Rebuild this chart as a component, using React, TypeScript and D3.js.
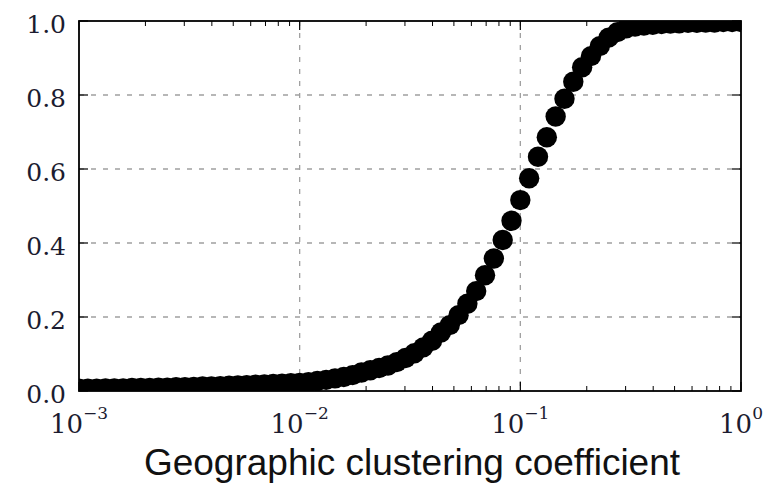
import React from "react"
import * as d3 from "d3"

// log10 of the clustering coefficient for each marker
const logX = [
  -3.00, -2.96, -2.92, -2.88, -2.84, -2.80, -2.76, -2.72, -2.68, -2.64,
  -2.60, -2.56, -2.52, -2.48, -2.44, -2.40, -2.36, -2.32, -2.28, -2.24,
  -2.20, -2.16, -2.12, -2.08, -2.04, -2.00, -1.96, -1.92, -1.88, -1.84,
  -1.80, -1.76, -1.72, -1.68, -1.64, -1.60, -1.56, -1.52, -1.48, -1.44,
  -1.40, -1.36, -1.32, -1.28, -1.24, -1.20, -1.16, -1.12, -1.08, -1.04,
  -1.00, -0.96, -0.92, -0.88, -0.84, -0.80, -0.76, -0.72, -0.68, -0.64,
  -0.60, -0.56, -0.52, -0.48, -0.44, -0.40, -0.36, -0.32, -0.28, -0.24,
  -0.20, -0.16, -0.12, -0.08, -0.04, 0.00,
]

// cumulative fraction
const cdf = [
  0.006, 0.006, 0.006, 0.007, 0.007, 0.007, 0.008, 0.008, 0.008, 0.009,
  0.009, 0.010, 0.010, 0.011, 0.012, 0.012, 0.013, 0.014, 0.015, 0.016,
  0.017, 0.018, 0.019, 0.020, 0.021, 0.022, 0.024, 0.027, 0.030, 0.034,
  0.038, 0.043, 0.050, 0.056, 0.062, 0.069, 0.078, 0.089, 0.102, 0.118,
  0.136, 0.158, 0.178, 0.205, 0.236, 0.270, 0.313, 0.358, 0.408, 0.460,
  0.516, 0.575, 0.633, 0.686, 0.742, 0.790, 0.836, 0.875, 0.905, 0.932,
  0.955, 0.970, 0.980, 0.985, 0.988, 0.990, 0.992, 0.993, 0.994, 0.995,
  0.995, 0.996, 0.996, 0.997, 0.997, 0.997,
]

const xTicks = [1e-3, 1e-2, 1e-1, 1]
const xTickExp = ["\u22123", "\u22122", "\u22121", "0"]
const yTicks = [0, 0.2, 0.4, 0.6, 0.8, 1.0]
const yTickLabels = ["0.0", "0.2", "0.4", "0.6", "0.8", "1.0"]
const xTitle = "Geographic clustering coefficient"

const W = 766
const H = 486
const margin = { left: 79, top: 21, right: 25, bottom: 95 }

export default function App() {
  const iw = W - margin.left - margin.right
  const ih = H - margin.top - margin.bottom

  const x = d3.scaleLog().domain([1e-3, 1]).range([0, iw])
  const y = d3.scaleLinear().domain([0, 1]).range([ih, 0])

  const minor = x.ticks().filter(t => !xTicks.some(m => Math.abs(t - m) < m * 1e-6))

  const serif = "'DejaVu Serif', serif"
  const textColor = "#1c1c30"

  return (
    <svg width={W} height={H} style={{ position: "absolute", left: 0, top: 0, background: "#fff" }}>
      <defs>
        <clipPath id="plotArea">
          <rect x={0} y={0} width={iw} height={ih} />
        </clipPath>
      </defs>
      <g transform={`translate(${margin.left},${margin.top})`}>
        {/* grid */}
        {yTicks.slice(1, -1).map(t => (
          <line key={"gy" + t} x1={0} x2={iw} y1={y(t)} y2={y(t)}
            stroke="#a0a0a0" strokeWidth={1.3} strokeDasharray="5,7" />
        ))}
        {xTicks.slice(1, -1).map(t => (
          <line key={"gx" + t} x1={x(t)} x2={x(t)} y1={0} y2={ih}
            stroke="#a0a0a0" strokeWidth={1.3} strokeDasharray="5,7" />
        ))}

        {/* markers */}
        <g clipPath="url(#plotArea)">
          {logX.map((lx, i) => (
            <circle key={i} cx={x(Math.pow(10, lx))} cy={y(cdf[i])} r={10.2} fill="#000" />
          ))}
        </g>

        {/* ticks, inward on all sides */}
        {xTicks.map(t => (
          <g key={"mx" + t}>
            <line x1={x(t)} x2={x(t)} y1={ih} y2={ih - 9} stroke="#000" strokeWidth={1.2} />
            <line x1={x(t)} x2={x(t)} y1={0} y2={9} stroke="#000" strokeWidth={1.2} />
          </g>
        ))}
        {minor.map(t => (
          <g key={"mn" + t}>
            <line x1={x(t)} x2={x(t)} y1={ih} y2={ih - 5} stroke="#000" strokeWidth={1} />
            <line x1={x(t)} x2={x(t)} y1={0} y2={5} stroke="#000" strokeWidth={1} />
          </g>
        ))}
        {yTicks.map(t => (
          <g key={"my" + t}>
            <line x1={0} x2={9} y1={y(t)} y2={y(t)} stroke="#000" strokeWidth={1.2} />
            <line x1={iw} x2={iw - 9} y1={y(t)} y2={y(t)} stroke="#000" strokeWidth={1.2} />
          </g>
        ))}

        {/* frame */}
        <rect x={0} y={0} width={iw} height={ih} fill="none" stroke="#000" strokeWidth={1.8} />

        {/* y tick labels */}
        {yTicks.map((t, i) => (
          <text key={"ly" + t} x={-13} y={y(t) + 12} textAnchor="end"
            fontFamily={serif} fontSize={25} fill={textColor}>{yTickLabels[i]}</text>
        ))}

        {/* x tick labels: 10^k */}
        {xTicks.map((t, i) => (
          <text key={"lx" + t} x={x(t)} y={ih + 42} textAnchor="middle"
            fontFamily={serif} fontSize={26} fill={textColor}>
            <tspan>10</tspan>
            <tspan dy={-14} fontSize={17}>{xTickExp[i]}</tspan>
          </text>
        ))}

        {/* axis title */}
        <text x={iw / 2 + 2} y={ih + 84} textAnchor="middle"
          fontFamily="'Liberation Sans', Arial, sans-serif" fontSize={37} fill="#111">{xTitle}</text>
      </g>
    </svg>
  )
}
